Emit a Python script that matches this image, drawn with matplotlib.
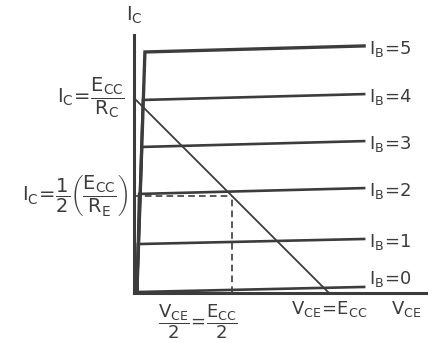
import numpy as np
import matplotlib.pyplot as plt

plt.rcParams['mathtext.fontset'] = 'custom'
plt.rcParams['mathtext.rm'] = 'DejaVu Sans'
plt.rcParams['mathtext.it'] = 'DejaVu Sans'
plt.rcParams['font.family'] = 'DejaVu Sans'

# ======= data (V_CE, I_C in units where E_CC = 10, E_CC/R_C = 10) =======
ib = [0, 1, 2, 3, 4, 5]
start_v = 0.15
knee_v = [0.15, 0.20, 0.26, 0.41, 0.46, 0.56]
knee_i = [0.05, 2.51, 5.08, 7.49, 9.90, 12.36]
end_v = 11.8
end_i = [0.31, 2.77, 5.38, 7.79, 10.20, 12.67]
ecc = 10.0
ic_sat = 10.0
q_v = 5.0
q_i = 5.0
# ===========================================================================

W, H = 428, 343
col = '#3c3c3c'

fig = plt.figure(figsize=(W / 100, H / 100), dpi=100)
x0, y0 = 134, 293   # axis origin in pixels
ax = fig.add_axes([x0 / W, 1 - y0 / H, (W - x0) / W, (y0 - 35) / H])
scale = 19.5
ax.set_xlim(0, (W - x0) / scale)
ax.set_ylim(0, (y0 - 35) / scale)
for s in ['top', 'right']:
    ax.spines[s].set_visible(False)
for s in ['left', 'bottom']:
    ax.spines[s].set_linewidth(2.2)
    ax.spines[s].set_color(col)
ax.set_xticks([])
ax.set_yticks([])
ax.patch.set_alpha(0)

for k in range(len(ib)):
    lw = 2.4 if ib[k] == 5 else 1.9
    ax.plot([start_v, knee_v[k], end_v], [0, knee_i[k], end_i[k]],
            color=col, lw=lw, solid_joinstyle='miter', clip_on=False)

# load line
ax.plot([0, ecc], [ic_sat, 0], color=col, lw=1.3, clip_on=False)
# Q point dashes
ax.plot([0, q_v], [q_i, q_i], color=col, lw=1.2, ls=(0, (4, 2.5)))
ax.plot([q_v, q_v], [0, q_i], color=col, lw=1.2, ls=(0, (4, 2.5)))


def fx(px):
    return px / W


def fy(py):
    return 1 - py / H


fs = 13
for k in range(len(ib)):
    py = min(y0 - end_i[k] * scale + 8, 284)
    fig.text(fx(369), fy(py), r'$\mathrm{I_B\!=\!%d}$' % ib[k], fontsize=fs,
             color=col, va='baseline', ha='left')

fig.text(fx(134), fy(15), r'$\mathrm{I_C}$', fontsize=fs + 1, color=col,
         ha='center', va='center')
fig.text(fx(125), fy(98), r'$\mathrm{I_C\!=\!\dfrac{E_{CC}}{R_C}}$', fontsize=fs + 1,
         color=col, ha='right', va='center')
fig.text(fx(128), fy(195), r'$\mathrm{I_C\!=\!\dfrac{1}{2}\left(\dfrac{E_{CC}}{R_E}\right)}$',
         fontsize=fs + 1, color=col, ha='right', va='center')
fig.text(fx(198), fy(322), r'$\mathrm{\dfrac{V_{CE}}{2}\!=\!\dfrac{E_{CC}}{2}}$',
         fontsize=fs, color=col, ha='center', va='center')
fig.text(fx(329), fy(309), r'$\mathrm{V_{CE}\!=\!E_{CC}}$', fontsize=fs,
         color=col, ha='center', va='center')
fig.text(fx(406), fy(309), r'$\mathrm{V_{CE}}$', fontsize=fs,
         color=col, ha='center', va='center')

fig.savefig('out.png', dpi=100)
